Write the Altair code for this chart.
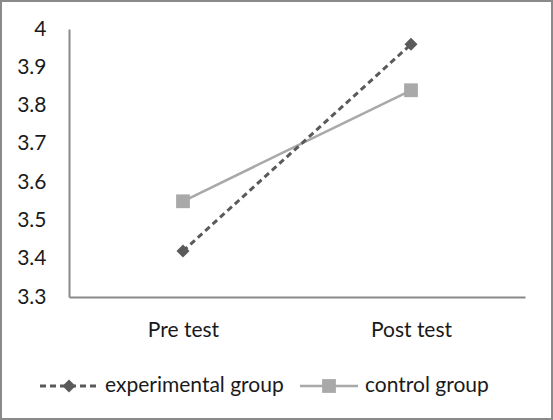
import altair as alt
import pandas as pd

tests = ["Pre test", "Post test"]
groups = ["experimental group", "control group"]
experimental = [3.42, 3.96]
control = [3.55, 3.84]
y_ticks = [3.3, 3.4, 3.5, 3.6, 3.7, 3.8, 3.9, 4.0]

rows = []
for t, e, c in zip(tests, experimental, control):
    rows.append({"test": t, "group": groups[0], "value": e})
    rows.append({"test": t, "group": groups[1], "value": c})
df = pd.DataFrame(rows)

FONT = "Lato"
FS = 21
TXT = "#1a1a1a"
DARK = "#5a5a5a"
LIGHT = "#a9a9a9"
AXIS = "#8a8a8a"

W, H = 456, 268

x = alt.X("test:N", sort=tests, title=None,
          scale=alt.Scale(paddingInner=0, paddingOuter=0),
          axis=alt.Axis(labelAngle=0, ticks=False, labelPadding=22, labelFontSize=FS,
                        labelFont=FONT, labelColor=TXT, domainColor=AXIS, domainWidth=2))
y = alt.Y("value:Q", title=None,
          scale=alt.Scale(domain=[3.3, 4.0], nice=False, zero=False),
          axis=alt.Axis(values=y_ticks, format=".1~f", ticks=False, grid=False, labelPadding=23,
                        labelFontSize=FS, labelFont=FONT, labelColor=TXT,
                        domainColor=AXIS, domainWidth=2))

base = alt.Chart(df)

exp_line = base.transform_filter(alt.datum.group == groups[0]).mark_line(
    color=DARK, strokeWidth=3, strokeDash=[6, 4]).encode(x=x, y=y)
ctl_line = base.transform_filter(alt.datum.group == groups[1]).mark_line(
    color=LIGHT, strokeWidth=2.5).encode(x=x, y=y)
exp_pts = base.transform_filter(alt.datum.group == groups[0]).mark_point(
    shape="diamond", filled=True, color=DARK, size=170, opacity=1).encode(x=x, y=y)
ctl_pts = base.transform_filter(alt.datum.group == groups[1]).mark_point(
    shape="square", filled=True, color=LIGHT, size=190, opacity=1).encode(x=x, y=y)

# manual legend (decoration)
leg_y = 357
leg = pd.DataFrame({"group": groups})
leg_exp_line = alt.Chart(leg).transform_filter(alt.datum.group == groups[0]).mark_rule(
    color=DARK, strokeWidth=3, strokeDash=[6, 4]).encode(
    x=alt.value(-29), x2=alt.value(28), y=alt.value(leg_y))
leg_exp_pt = alt.Chart(leg).transform_filter(alt.datum.group == groups[0]).mark_point(
    shape="diamond", filled=True, color=DARK, size=170, opacity=1).encode(
    x=alt.value(0), y=alt.value(leg_y))
leg_exp_txt = alt.Chart(leg).transform_filter(alt.datum.group == groups[0]).mark_text(
    align="left", baseline="middle", fontSize=FS, font=FONT, color=TXT).encode(
    x=alt.value(36), y=alt.value(leg_y), text="group:N")
leg_ctl_line = alt.Chart(leg).transform_filter(alt.datum.group == groups[1]).mark_rule(
    color=LIGHT, strokeWidth=2.5).encode(
    x=alt.value(231), x2=alt.value(289), y=alt.value(leg_y))
leg_ctl_pt = alt.Chart(leg).transform_filter(alt.datum.group == groups[1]).mark_point(
    shape="square", filled=True, color=LIGHT, size=190, opacity=1).encode(
    x=alt.value(260), y=alt.value(leg_y))
leg_ctl_txt = alt.Chart(leg).transform_filter(alt.datum.group == groups[1]).mark_text(
    align="left", baseline="middle", fontSize=FS, font=FONT, color=TXT).encode(
    x=alt.value(296), y=alt.value(leg_y), text="group:N")

border = alt.Chart(leg).transform_filter(alt.datum.group == groups[0]).mark_rect(
    fill=None, stroke="#8a8a8a", strokeWidth=2).encode(
    x=alt.value(-68), x2=alt.value(W + 27), y=alt.value(-28), y2=alt.value(H + 122))

chart = alt.layer(
    border, ctl_line, exp_line, ctl_pts, exp_pts,
    leg_exp_line, leg_exp_pt, leg_exp_txt, leg_ctl_line, leg_ctl_pt, leg_ctl_txt
).properties(
    width=W, height=H,
    autosize=alt.AutoSizeParams(type="none"),
    padding={"left": 69, "top": 29, "right": 28, "bottom": 123},
    background="white",
).configure_view(stroke=None)

chart.save("out.html", embed_options={"renderer": "svg", "actions": False})
